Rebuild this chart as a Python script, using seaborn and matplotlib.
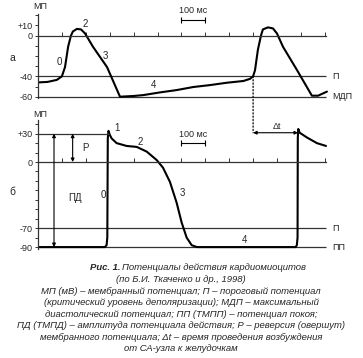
import matplotlib
matplotlib.use("Agg")
import matplotlib.pyplot as plt
from matplotlib.patches import ConnectionPatch
import seaborn as sns

# --- data (time in ms, potential in mV) ---
# panel a: pacemaker (SA node) action potentials
t_a = [0, 40, 79, 100, 113, 126, 138, 146, 163, 180, 197, 230, 289, 343, 400,
       441, 510, 580, 650, 720, 790, 859, 887, 900, 908, 920, 933, 941, 962,
       983, 1000, 1025, 1084, 1146, 1172, 1209]
v_a = [-46, -45.5, -43.5, -40, -31, -11, 0, 4, 6.5, 6, 2, -11, -31, -60,
       -59.3, -58.4, -55.8, -53.5, -50.5, -48.6, -46.3, -44.6, -42.5, -40,
       -34, -14, 0, 6, 8, 7, 2, -11, -34, -59, -59, -55]

# panel b: ventricular myocyte action potentials
t_b = [0, 280, 287, 290, 292, 295, 300, 308, 329, 371, 413, 455, 497, 523,
       552, 580, 601, 622, 643, 665, 1078, 1083, 1086, 1087, 1089, 1095, 1125,
       1167, 1205]
v_b = [-90, -90, -88, -80, 25, 33, 29, 25, 20, 17, 16, 11, 2, -6, -21, -43,
       -64, -80, -88, -90, -90, -88, -80, 25, 35, 31, 26, 20, 17]

levels_a = [0, -40, -60]
levels_b = [0, -70, -90]
yticks_a = [10, 0, -40, -60]
yticks_b = [30, 0, -70, -90]
xticks_a = [100, 200, 300, 400, 500, 600, 700, 800, 900, 1100, 1200]
xticks_b = [100, 200, 400, 600, 700, 800, 900, 1000, 1200]

caption = [
    "(по Б.И. Ткаченко и др., 1998)",
    "МП (мВ) – мембранный потенциал; П – пороговый потенциал",
    "(критический уровень деполяризации); МДП – максимальный",
    "диастолический потенциал; ПП (ТМПП) – потенциал покоя;",
    "ПД (ТМПД) – амплитуда потенциала действия; Р – реверсия (овершут)",
    "мембранного потенциала; Δt – время проведения возбуждения",
    "от СА-узла к желудочкам",
]

sns.set_style("white")
plt.rcParams["font.family"] = ["Liberation Sans", "DejaVu Sans"]

W, H = 363, 358
fig = plt.figure(figsize=(W / 100, H / 100), dpi=100)
fig.patch.set_facecolor("white")

ax_a = fig.add_axes([38 / W, (H - 101.8) / H, 310.7 / W, 88.7 / H])
ax_b = fig.add_axes([38 / W, (H - 251.8) / H, 310.7 / W, 132.3 / H])

fs = 6.5
lc = "#333333"

def style_axis(ax, ylim, ybounds, yticks, xticks, levels, right_labels):
    ax.set_xlim(0, 1300)
    ax.set_ylim(*ylim)
    ax.patch.set_alpha(0)
    for s in ["top", "right"]:
        ax.spines[s].set_visible(False)
    ax.spines["left"].set_bounds(*ybounds)
    ax.spines["left"].set_linewidth(0.9)
    ax.spines["left"].set_color(lc)
    ax.spines["bottom"].set_position(("data", 0))
    ax.spines["bottom"].set_bounds(0, 1205)
    ax.spines["bottom"].set_linewidth(0.9)
    ax.spines["bottom"].set_color(lc)
    ax.set_yticks(yticks, labels=[("+%d" % v if v > 0 else str(v)) for v in yticks])
    ax.set_yticks(range(ybounds[1] // 10 * 10, ybounds[0], -10), minor=True)
    ax.tick_params(axis="y", which="both", direction="out", length=2.5,
                   width=0.7, pad=1.5, labelsize=fs, color=lc, left=True)
    ax.set_xticks(xticks)
    ax.tick_params(axis="x", direction="in", length=3, width=0.7,
                   labelbottom=False, color=lc, bottom=True)
    ax.set_xlabel("")
    ax.set_ylabel("")
    for lv in levels[1:]:
        ax.hlines(lv, 0, 1205, color=lc, lw=0.9)
    for lv, lab in right_labels:
        ax.text(1230, lv, lab, fontsize=fs, va="center", ha="left", color="#222")

def scale_bar(ax, y, ylab):
    ax.errorbar(650, y, xerr=50, color="black", lw=0.8, capsize=2,
                capthick=0.8)
    ax.text(650, ylab, "100 мс", fontsize=fs, ha="center", va="center")

style_axis(ax_a, (-65, 22), (-61, 21), yticks_a, xticks_a, levels_a,
           [(-40, "П"), (-60, "МДП")])
style_axis(ax_b, (-95, 45), (-92, 44), yticks_b, xticks_b, levels_b,
           [(-70, "П"), (-90, "ПП")])

sns.lineplot(x=t_a, y=v_a, ax=ax_a, color="black", lw=1.5, sort=False,
             estimator=None)
sns.lineplot(x=t_b, y=v_b, ax=ax_b, color="black", lw=1.5, sort=False,
             estimator=None)

# panel a annotations
ax_a.text(8, 28, "МП", fontsize=fs, ha="center", va="center")
ax_a.text(-109, -22, "а", fontsize=7.5, ha="center", va="center")
for tx, vy, lab in [(88, -25.5, "0"), (197, 11.3, "2"), (280, -20, "3"),
                    (485, -48.5, "4")]:
    ax_a.text(tx, vy, lab, fontsize=fs + 0.5, ha="center", va="center")
scale_bar(ax_a, 15, 25)

# panel b annotations
ax_b.hlines(30, 0, 295, color=lc, lw=0.9)
ax_b.text(8, 50, "МП", fontsize=fs, ha="center", va="center")
ax_b.text(-109, -32, "б", fontsize=7.5, ha="center", va="center")
for tx, vy, lab in [(331, 36, "1"), (427, 21, "2"), (602, -33, "3"),
                    (866, -82.5, "4"), (272, -35, "0"), (155, -38, "ПД"),
                    (197, 15, "P")]:
    ax_b.text(tx, vy, lab, fontsize=fs + 0.5, ha="center", va="center")
ax_b.annotate("", xy=(67, -90), xytext=(67, 30),
              arrowprops=dict(arrowstyle="<|-|>", lw=0.8, mutation_scale=5,
                              color="black", shrinkA=0, shrinkB=0))
ax_b.annotate("", xy=(145, 0), xytext=(145, 30),
              arrowprops=dict(arrowstyle="<|-|>", lw=0.8, mutation_scale=5,
                              color="black", shrinkA=0, shrinkB=0))
scale_bar(ax_b, 20, 29.6)

# conduction time delta t
ax_b.annotate("", xy=(1088, 31), xytext=(900, 31),
              arrowprops=dict(arrowstyle="<|-|>", lw=0.8, mutation_scale=5,
                              color="black", shrinkA=0, shrinkB=0))
ax_b.text(1000, 38, "Δt", fontsize=fs, ha="center", va="center")
con = ConnectionPatch(xyA=(900, -40), coordsA=ax_a.transData,
                      xyB=(900, 31), coordsB=ax_b.transData,
                      linestyle=":", lw=0.9, color="black")
fig.add_artist(con)

# caption
cfs = 6.8
fig.text(120 / W, 1 - 268 / H, "Рис. 1.", fontsize=cfs, style="italic",
         weight="bold", ha="right", va="center")
fig.text(122 / W, 1 - 268 / H, "Потенциалы действия кардиомиоцитов",
         fontsize=cfs, style="italic", ha="left", va="center")
for i, line in enumerate(caption):
    fig.text(181 / W, 1 - (280 + 11.4 * i) / H, line, fontsize=cfs,
             style="italic", ha="center", va="center")

fig.savefig("out.png", dpi=100, facecolor="white")
